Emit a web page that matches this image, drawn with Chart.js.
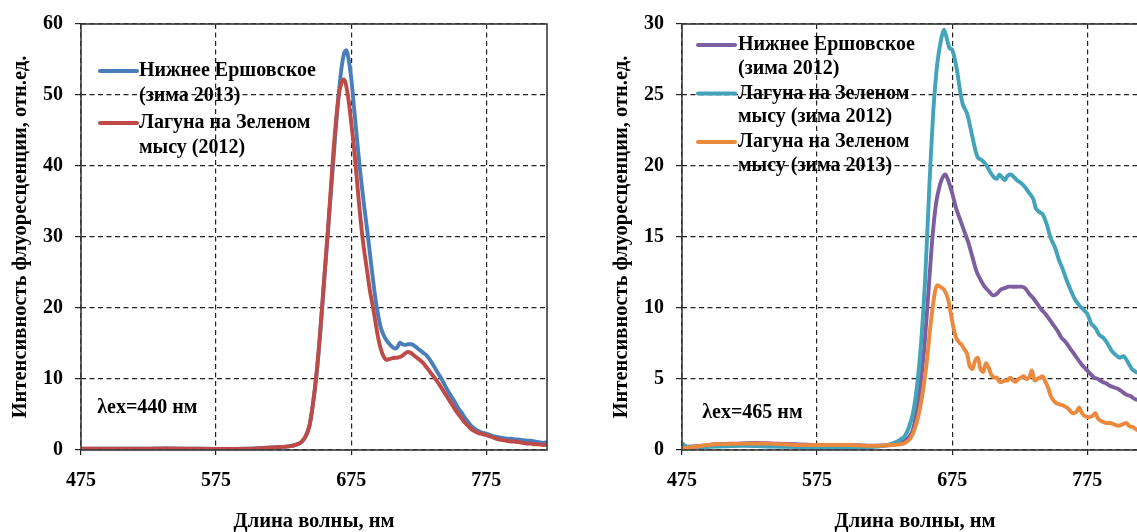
<!DOCTYPE html>
<html>
<head>
<meta charset="utf-8">
<script src="https://cdn.jsdelivr.net/npm/chart.js@4"></script>
<style>
  html, body { margin:0; padding:0; background:#fff; width:1137px; height:532px; overflow:hidden; }
  .box { position:absolute; top:0; width:560px; height:532px; }
</style>
</head>
<body>
<div class="box" style="left:0px"><canvas id="c1" width="560" height="532"></canvas></div>
<div class="box" style="left:601px"><canvas id="c2" width="560" height="532"></canvas></div>
<script>
// ---------- DATA ----------
const xTicks = [475, 575, 675, 775];
const xMin = 475, xMax = 820;
const yTitle = 'Интенсивность флуоресценции, отн.ед.';
const xTitle = 'Длина волны, нм';

// Left chart (λex = 440 nm)
const leftNames = [['Нижнее Ершовское', '(зима 2013)'], ['Лагуна на Зеленом', 'мысу (2012)']];
const leftNote = 'λex=440 нм';
const leftNotePos = [487, 5.9];
const blueX = [475,500,525,550,575,600,610,620,630,635,638,641,644,646,648,650,652,654,656,658,660,662,664,666,668,670,671.5,673,675,677,679,681,683,685,687,689,691,693,695,697,699,701,703,705,707,709,711,713,715,717,719,721,723,725,727,729,731,733,735,737,739,741,743,745,747,749,751,753,755,757,759,761,763,765,767,769,771,773,775,778,781,784,787,790,793,796,799,802,805,808,811,814,817,820];
const blueY = [0.2,0.2,0.2,0.2,0.15,0.2,0.3,0.4,0.55,0.8,1.1,1.8,3.3,5.5,8.3,11.8,16.2,21.2,26.3,31.2,36.2,41.2,46.2,50.5,54.0,56.0,56.3,55.2,52.5,48.5,44.5,40.5,37.0,33.8,30.8,27.5,24.3,21.3,19.0,17.2,16.2,15.5,15.0,14.6,14.3,14.4,15.1,14.9,14.8,14.9,14.9,14.8,14.5,14.2,13.9,13.6,13.3,12.8,12.2,11.6,10.9,10.3,9.6,8.9,8.2,7.6,7.0,6.3,5.7,5.2,4.6,4.1,3.6,3.2,2.9,2.7,2.5,2.4,2.3,2.1,1.9,1.8,1.7,1.6,1.6,1.5,1.5,1.4,1.3,1.3,1.2,1.1,1.0,1.1];
const redX = [475,500,525,550,575,600,610,620,630,635,638,641,644,646,648,650,652,654,656,658,660,662,664,666,668,669.5,671,673,675,677,679,681,683,685,687,689,691,693,695,697,699,701,703,705,707,709,711,713,715,717,719,721,723,725,727,729,731,733,735,737,739,741,743,745,747,749,751,753,755,757,759,761,763,765,767,769,771,773,775,778,781,784,787,790,793,796,799,802,805,808,811,814,817,820];
const redY = [0.2,0.2,0.2,0.2,0.15,0.2,0.3,0.4,0.55,0.8,1.1,1.8,3.3,5.5,8.5,12.0,16.5,21.5,26.5,31.5,37.0,42.3,46.8,50.2,51.8,52.2,51.6,49.4,46.2,42.8,38.6,34.4,30.6,27.6,25.0,22.3,20.3,18.0,15.8,14.2,13.2,12.7,12.8,12.9,13.0,13.0,13.1,13.3,13.6,13.8,13.7,13.4,13.1,12.8,12.5,12.1,11.6,11.1,10.6,10.1,9.6,9.0,8.4,7.8,7.2,6.6,6.0,5.4,4.9,4.4,3.9,3.5,3.1,2.8,2.6,2.4,2.3,2.2,2.1,1.9,1.7,1.5,1.4,1.3,1.2,1.2,1.1,1.0,0.9,0.9,0.8,0.8,0.7,0.8];

// Right chart (λex = 465 nm)
const rightNames = [['Нижнее Ершовское', '(зима 2012)'], ['Лагуна на Зеленом', 'мысу (зима 2012)'], ['Лагуна на Зеленом', 'мысу (зима 2013)']];
const rightNote = 'λex=465 нм';
const rightNotePos = [490, 2.6];
const purpleX = [475,490,500,515,530,545,560,580,600,620,630,635,640,645,648,651,654,657,660,663,666,668,670,672,675,678,681,684,687,690,693,696,699,702,705,708,711,714,717,720,723,726,729,732,735,738,741,744,747,750,753,756,759,762,765,768,771,774,777,780,783,786,789,792,795,798,801,804,807,810,813,816,820];
const purpleY = [0.2,0.3,0.4,0.45,0.5,0.45,0.4,0.35,0.35,0.3,0.35,0.45,0.65,1.2,2.3,4.2,6.8,10.5,14.5,17.3,18.7,19.2,19.4,19.0,18.1,17.0,16.2,15.4,14.6,13.6,12.6,12.0,11.5,11.2,10.9,11.0,11.3,11.4,11.5,11.5,11.5,11.5,11.4,11.0,10.7,10.3,9.9,9.6,9.2,8.8,8.4,7.9,7.6,7.2,6.8,6.4,6.0,5.7,5.4,5.1,5.0,4.8,4.7,4.5,4.4,4.3,4.1,3.9,3.8,3.6,3.5,3.3,3.0];
const tealX = [475,477,480,490,500,520,540,560,575,590,600,610,620,627,632,636,640,643,646,649,652,655,658,661,664,667,669,671,673,675,677,679,681,683,686,689,692,694,697,700,703,706,708,710,712,714,716,718,720,723,726,729,732,735,737,739,742,745,748,751,754,757,760,763,766,769,772,775,778,781,784,787,790,793,796,799,802,805,808,811,814,817,820];
const tealY = [0.5,0.3,0.2,0.2,0.25,0.3,0.25,0.2,0.15,0.15,0.15,0.2,0.25,0.35,0.5,0.7,1.0,1.6,2.6,4.5,7.5,12.0,18.3,23.8,27.2,29.0,29.6,29.0,28.3,28.2,27.5,26.5,25.2,24.3,23.7,22.5,21.2,20.6,20.4,20.1,19.6,19.2,19.1,19.4,19.2,19.0,19.3,19.4,19.3,19.0,18.8,18.5,18.1,17.7,17.0,16.8,16.6,15.9,14.9,14.3,13.4,12.7,11.9,11.2,10.6,10.2,9.9,9.6,8.9,8.6,8.1,7.9,7.5,7.0,6.7,6.5,6.6,6.2,5.7,5.5,5.4,5.2,5.1];
const orangeX = [475,490,500,520,540,560,580,600,610,620,630,636,640,644,647,650,653,656,659,662,664,666,669,672,674,676,678,680,682,684,686,688,690,692,694,696,698,700,702,704,706,708,710,712,714,716,718,720,722,724,726,728,730,732,734,736,738,740,742,744,746,748,750,752,755,758,761,764,767,769,771,773,776,779,781,783,786,789,792,795,798,801,804,806,809,812,815,818,820];
const orangeY = [0.1,0.3,0.4,0.45,0.45,0.35,0.35,0.35,0.3,0.3,0.35,0.4,0.5,0.8,1.4,2.4,3.9,6.0,8.8,11.0,11.6,11.5,11.3,10.6,9.6,8.6,7.9,7.6,7.4,7.1,6.8,5.9,5.7,6.3,6.5,5.7,5.5,6.1,5.8,5.3,5.1,5.1,4.8,4.8,4.9,4.9,5.1,4.9,4.8,5.0,5.1,5.2,5.0,5.1,5.6,4.9,5.0,5.1,5.2,4.8,4.4,3.8,3.5,3.3,3.2,3.1,2.9,2.6,2.7,3.0,2.6,2.4,2.3,2.4,2.6,2.2,2.0,1.9,1.9,1.8,1.7,1.8,1.9,1.7,1.6,1.4,1.3,1.2,1.2];

// ---------- STYLE ----------
const FONT = '"Liberation Serif", "Times New Roman", serif';
const TXT = '#000';
const GRID = '#222';
const pts = (xs, ys) => xs.map((x, i) => ({x, y: ys[i]}));

function frameAndLegend(cfg) {
  return {
    id: 'frameAndLegend',
    afterDatasetsDraw(chart) {
      const {ctx, chartArea: a, scales} = chart;
      ctx.save();
      ctx.strokeStyle = '#3a3a3a';
      ctx.lineWidth = 1.6;
      ctx.setLineDash([]);
      ctx.strokeRect(a.left, a.top, a.right - a.left, a.bottom - a.top);
      ctx.font = 'bold 20px ' + FONT;
      ctx.fillStyle = TXT;
      ctx.textBaseline = 'middle';
      ctx.textAlign = 'left';
      ctx.fillText(cfg.note, scales.x.getPixelForValue(cfg.notePos[0]), scales.y.getPixelForValue(cfg.notePos[1]));
      chart.data.datasets.forEach((ds, i) => {
        const y0 = a.top + cfg.legTop + i * cfg.legStep;
        ctx.strokeStyle = ds.borderColor;
        ctx.lineWidth = 4;
        ctx.lineCap = 'round';
        ctx.beginPath();
        ctx.moveTo(a.left + cfg.legX1, y0);
        ctx.lineTo(a.left + cfg.legX2, y0);
        ctx.stroke();
        ds.legendLines.forEach((t, k) => {
          ctx.fillText(t, a.left + cfg.legTx, y0 + k * cfg.lineStep);
        });
      });
      ctx.restore();
    }
  };
}

function makeChart(id, datasets, yMax, yStep, cfg) {
  return new Chart(document.getElementById(id), {
    type: 'line',
    data: { datasets },
    options: {
      responsive: false,
      devicePixelRatio: 1,
      animation: false,
      layout: { padding: { left: 0, right: 13, top: 24, bottom: 0 } },
      plugins: { legend: { display: false }, tooltip: { enabled: false } },
      elements: { point: { radius: 0 }, line: { tension: 0.25, borderWidth: 3.9 } },
      scales: {
        x: {
          type: 'linear', min: xMin, max: xMax,
          afterBuildTicks: s => { s.ticks = xTicks.map(v => ({value: v})); },
          afterFit: s => { s.height = 82; },
          grid: { color: GRID, lineWidth: 1.2, tickLength: 5, tickColor: GRID },
          border: { display: false, dash: [5, 3.5] },
          ticks: { color: TXT, font: { family: FONT, size: 20, weight: 'bold' }, padding: 14, maxRotation: 0 },
          title: { display: true, text: xTitle, color: TXT, font: { family: FONT, size: 20.5, weight: 'bold', lineHeight: 1.0 }, padding: { top: 0, bottom: 0 } }
        },
        y: {
          min: 0, max: yMax,
          ticks: { stepSize: yStep, color: TXT, font: { family: FONT, size: 20, weight: 'bold' }, padding: 12 },
          afterFit: s => { s.width = 81; },
          grid: { color: GRID, lineWidth: 1.2, tickLength: 6, tickColor: GRID },
          border: { display: false, dash: [5, 3.5] },
          title: { display: true, text: yTitle, color: TXT, font: { family: FONT, size: 20.5, weight: 'bold', lineHeight: 1.0 }, padding: { top: 10, bottom: 0 } }
        }
      }
    },
    plugins: [frameAndLegend(cfg)]
  });
}

const ds = (names, xs, ys, color, order) => ({
  label: names.join(' '), legendLines: names, data: pts(xs, ys),
  borderColor: color, backgroundColor: color, fill: false, order
});

makeChart('c1', [
  ds(leftNames[0], blueX, blueY, '#4A7EBB', 2),
  ds(leftNames[1], redX, redY, '#BE4B48', 1)
], 60, 10, { note: leftNote, notePos: leftNotePos, legTop: 47, legStep: 52, lineStep: 25, legX1: 19, legX2: 56, legTx: 58 });

makeChart('c2', [
  ds(rightNames[0], purpleX, purpleY, '#7D5FA0', 3),
  ds(rightNames[1], tealX, tealY, '#43A3BA', 2),
  ds(rightNames[2], orangeX, orangeY, '#EB8A3E', 1)
], 30, 5, { note: rightNote, notePos: rightNotePos, legTop: 21, legStep: 48.5, lineStep: 23.5, legX1: 16, legX2: 53, legTx: 56 });
</script>
</body>
</html>
